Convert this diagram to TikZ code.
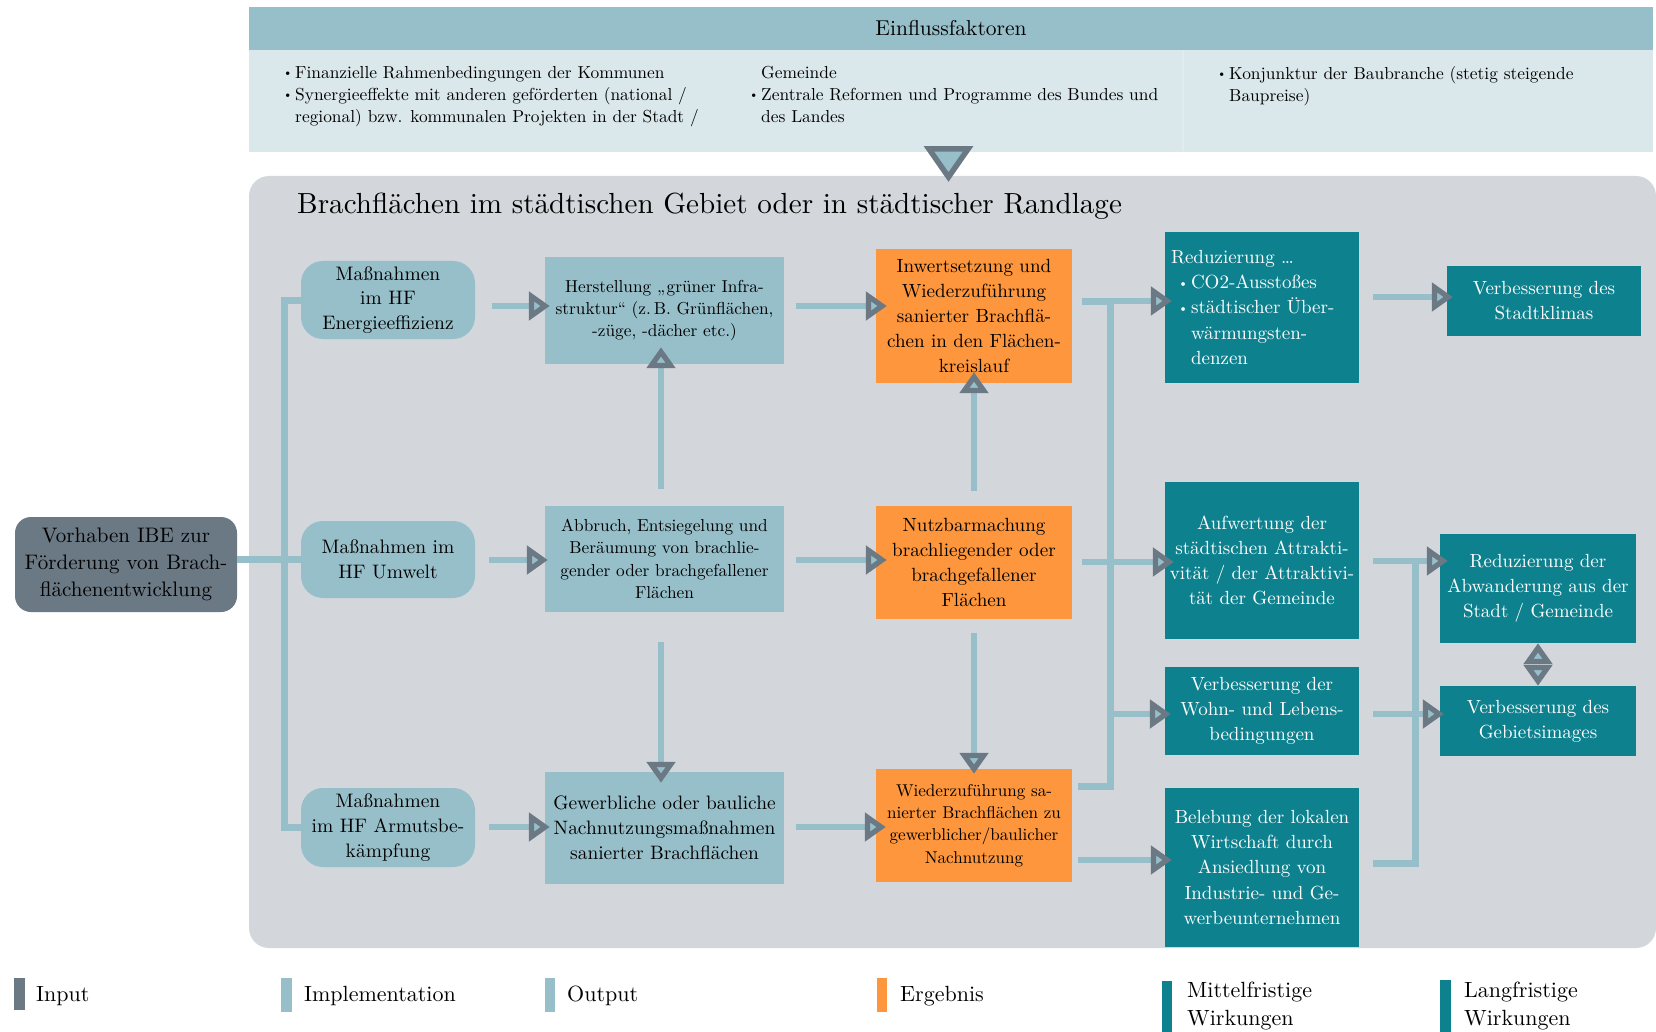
\documentclass[tikz,border=0pt]{standalone}
\usepackage{fontspec}
\setmainfont{lmroman10-regular.otf}[BoldFont=lmroman10-bold.otf, ItalicFont=lmroman10-italic.otf]
\usetikzlibrary{arrows.meta}
\definecolor{cin}{HTML}{6B7985}
\definecolor{clb}{HTML}{97BFCA}
\definecolor{cor}{HTML}{FD963C}
\definecolor{ctl}{HTML}{0E818F}
\definecolor{cpan}{HTML}{D3D7DB}
\definecolor{clp}{HTML}{DAE7EB}
\definecolor{clpl}{HTML}{E2ECEF}
\definecolor{ctip}{HTML}{6B7985}
\tikzset{
  tipA/.tip={Triangle[length=21pt,width=28pt,line width=5.5pt,color=ctip,fill=clb]},
  arr/.style={draw=clb, line width=5.5pt, -{tipA}},
  bus/.style={draw=clb, line width=7pt},
  dbl/.style={draw=cpan, line width=1pt, {tipA}-{tipA}},
  bx/.style={inner sep=0pt, align=center, draw=none},
  impl/.style={bx, fill=clb, rounded corners=22pt, font=\fontsize{19.5}{24.8}\selectfont},
  outp/.style={bx, fill=clb, font=\fontsize{19.4}{24.8}\selectfont},
  outps/.style={bx, fill=clb, font=\fontsize{17.3}{22.4}\selectfont},
  erg/.style={bx, fill=cor, font=\fontsize{19.1}{24.8}\selectfont},
  ergs/.style={bx, fill=cor, font=\fontsize{17.1}{22.4}\selectfont},
  wirk/.style={bx, fill=ctl, text=white, font=\fontsize{19}{25.2}\selectfont},
  legtxt/.style={inner sep=0pt, anchor=west, align=left, font=\fontsize{22}{28}\selectfont},
  eintxt/.style={inner sep=0pt, anchor=north west, align=left, font=\fontsize{17.4}{22}\selectfont},
}
\newcommand{\bul}{\makebox[12pt][l]{\raisebox{1.5pt}{\fontsize{12}{12}\selectfont\textbullet}}}
\newcommand{\ind}{\hspace*{12pt}}
\begin{document}
\begin{tikzpicture}[x=1pt,y=-1pt]
\useasboundingbox (0,0) rectangle (1656,1032);
% Einflussfaktoren
\node[bx, fill=clb, minimum width=1404pt, minimum height=43pt, font=\fontsize{21.5}{26}\selectfont] (hdr) at (951,28.5) {Einflussfaktoren};
\node[bx, fill=clp, minimum width=1404pt, minimum height=102pt] (lp) at (951,101) {};
\draw[clpl, line width=1.5pt] (1183,50) -- (1183,151);
\node[eintxt] (e1) at (283,66) {\bul Finanzielle Rahmenbedingungen der Kommunen\\\bul Synergieeffekte mit anderen geförderten (national /\\\ind regional) bzw. kommunalen Projekten in der Stadt /};
\node[eintxt] (e2) at (749,66) {\ind Gemeinde\\\bul Zentrale Reformen und Programme des Bundes und\\\ind des Landes};
\node[eintxt] (e3) at (1217,66) {\bul Konjunktur der Baubranche (stetig steigende\\\ind Baupreise)};
% big panel
\node[bx, fill=cpan, rounded corners=20pt, minimum width=1407pt, minimum height=772pt] (pan) at (952.5,562) {};
\draw[line width=5.5pt, draw=ctip, fill=clb, line join=miter] (929,149) -- (968,149) -- (948.5,177) -- cycle;
\node[inner sep=0pt, anchor=west, font=\fontsize{29.1}{35}\selectfont] (ttl) at (297,206) {Brachflächen im städtischen Gebiet oder in städtischer Randlage};
% input
\node[bx, fill=cin, rounded corners=16pt, minimum width=222pt, minimum height=95pt, font=\fontsize{21}{27}\selectfont] (in) at (126,564.5) {Vorhaben IBE zur\\Förderung von Brach-\\flächenentwicklung};
% implementation
\node[impl, minimum width=174pt, minimum height=78pt] (me) at (388,300) {Maßnahmen\\im HF\\Energieeffizienz};
\node[impl, minimum width=174pt, minimum height=77pt] (mu) at (388,559.5) {Maßnahmen im\\HF Umwelt};
\node[impl, minimum width=174pt, minimum height=79pt] (ma) at (388,827.5) {Maßnahmen\\im HF Armutsbe-\\kämpfung};
% output
\node[outps, minimum width=239pt, minimum height=107pt] (hs) at (664.5,310.5) {Herstellung „grüner Infra-\\struktur“ (z.\,B. Grünflächen,\\-züge, -dächer etc.)};
\node[outps, minimum width=239pt, minimum height=106pt] (ab) at (664.5,559) {Abbruch, Entsiegelung und\\Beräumung von brachlie-\\gender oder brachgefallener\\Flächen};
\node[outp, minimum width=239pt, minimum height=112pt] (gw) at (664.5,828) {Gewerbliche oder bauliche\\Nachnutzungsmaßnahmen\\sanierter Brachflächen};
% ergebnis
\node[erg, minimum width=196pt, minimum height=134pt] (iw) at (974,316) {Inwertsetzung und\\Wiederzuführung\\sanierter Brachflä-\\chen in den Flächen-\\kreislauf};
\node[erg, minimum width=196pt, minimum height=113pt] (nb) at (974,562.5) {Nutzbarmachung\\brachliegender oder\\brachgefallener\\Flächen};
\node[ergs, minimum width=196pt, minimum height=113pt] (wz) at (974,825.5) {Wiederzuführung sa-\\nierter Brachflächen zu\\gewerblicher/baulicher\\Nachnutzung};
% wirkungen
\node[wirk, minimum width=194pt, minimum height=151pt, text width=182pt, align=left] (rd) at (1262,307.5) {Reduzierung …\\\hspace*{7pt}\makebox[13pt][l]{\raisebox{1.5pt}{\fontsize{13}{13}\selectfont\textbullet}}CO2-Ausstoßes\\\hspace*{7pt}\makebox[13pt][l]{\raisebox{1.5pt}{\fontsize{13}{13}\selectfont\textbullet}}städtischer Über-\\\hspace*{20pt}wärmungsten-\\\hspace*{20pt}denzen};
\node[wirk, minimum width=194pt, minimum height=70pt] (sk) at (1544,301) {Verbesserung des\\Stadtklimas};
\node[wirk, minimum width=194pt, minimum height=157pt] (aw) at (1262,560.5) {Aufwertung der\\städtischen Attrakti-\\vität / der Attraktivi-\\tät der Gemeinde};
\node[wirk, minimum width=196pt, minimum height=109pt] (abw) at (1538,588.5) {Reduzierung der\\Abwanderung aus der\\Stadt / Gemeinde};
\node[wirk, minimum width=194pt, minimum height=88pt] (wl) at (1262,711) {Verbesserung der\\Wohn- und Lebens-\\bedingungen};
\node[wirk, minimum width=196pt, minimum height=70pt] (gb) at (1538,721) {Verbesserung des\\Gebietsimages};
\node[wirk, minimum width=194pt, minimum height=159pt] (bl) at (1262,867.5) {Belebung der lokalen\\Wirtschaft durch\\Ansiedlung von\\Industrie- und Ge-\\werbeunternehmen};
% helper coordinates
\coordinate (b1) at (284,0);
\coordinate (r1) at (0,306);
\coordinate (r2) at (0,560);
\coordinate (r3) at (0,827);
\coordinate (r4) at (0,860);
\coordinate (r5) at (0,297);
\coordinate (r6) at (0,714);
\coordinate (b2a) at (1110,301);
\coordinate (b2m) at (1110,562);
\coordinate (b2b) at (1110,786);
\coordinate (b3a) at (1415,561);
\coordinate (b3b) at (1415,863);
% bus 1
\draw[bus] (me.west) -- (me.west -| b1) -- (ma.west -| b1) -- (ma.west);
\draw[bus] (in.east |- mu.west) -- (mu.west);
% horizontal arrows
\draw[arr, shorten <=17pt, shorten >=-5pt] (me.east |- r1) -- (hs.west |- r1);
\draw[arr, shorten <=12pt, shorten >=-11pt] (hs.east |- r1) -- (iw.west |- r1);
\draw[arr, shorten <=14pt, shorten >=-3pt] (mu.east |- r2) -- (ab.west |- r2);
\draw[arr, shorten <=12pt, shorten >=-11pt] (ab.east |- r2) -- (nb.west |- r2);
\draw[arr, shorten <=14pt, shorten >=-5pt] (ma.east |- r3) -- (gw.west |- r3);
\draw[arr, shorten <=12pt, shorten >=-10pt] (gw.east |- r3) -- (wz.west |- r3);
% vertical arrows
\draw[arr, shorten <=17pt, shorten >=-17pt] ([xshift=-3.5pt]ab.north) -- ([xshift=-3.5pt]hs.south);
\draw[arr, shorten <=30pt, shorten >=-11pt] ([xshift=-3.5pt]ab.south) -- ([xshift=-3.5pt]gw.north);
\draw[arr, shorten <=15pt, shorten >=-11pt] (nb.north) -- (iw.south);
\draw[arr, shorten <=14pt, shorten >=-5pt] (nb.south) -- (wz.north);
% bus 2
\draw[bus, shorten <=10pt, shorten >=6pt] (iw.east |- b2a) -- (b2a) -- (b2b) -- (wz.east |- b2b);
\draw[arr, shorten >=-7pt] (b2a) -- (rd.west |- b2a);
\draw[arr, shorten <=10pt, shorten >=-9pt] (nb.east |- b2m) -- (aw.west |- b2m);
\draw[arr, shorten >=-6pt] (b2a |- r6) -- (wl.west |- r6);
\draw[arr, shorten <=6pt, shorten >=-7pt] (wz.east |- r4) -- (bl.west |- r4);
% right
\draw[arr, shorten <=14pt, shorten >=-6pt] (rd.east |- r5) -- (sk.west |- r5);
\draw[arr, shorten <=14pt, shorten >=-8pt] (aw.east |- b3a) -- (abw.west |- b3a);
\draw[arr, shorten <=14pt, shorten >=-4pt] (wl.east |- r6) -- (gb.west |- r6);
\draw[bus, shorten <=14pt] (bl.east |- b3b) -- (b3b) -- (b3a);
\draw[dbl] (abw.south) -- (gb.north);
% legend
\fill[cin] (14,978) rectangle (25,1010);
\fill[clb] (281,978) rectangle (292,1012);
\fill[clb] (545,978) rectangle (555,1012);
\fill[cor] (877,978) rectangle (887,1012);
\fill[ctl] (1162,981) rectangle (1172,1032);
\fill[ctl] (1440,980) rectangle (1451,1032);
\node[legtxt] (l1) at (36,996) {Input};
\node[legtxt] (l2) at (304,996) {Implementation};
\node[legtxt] (l3) at (567,996) {Output};
\node[legtxt] (l4) at (900,996) {Ergebnis};
\node[legtxt] (l5) at (1187,1006) {Mittelfristige\\Wirkungen};
\node[legtxt] (l6) at (1464,1006) {Langfristige\\Wirkungen};
\end{tikzpicture}
\end{document}
